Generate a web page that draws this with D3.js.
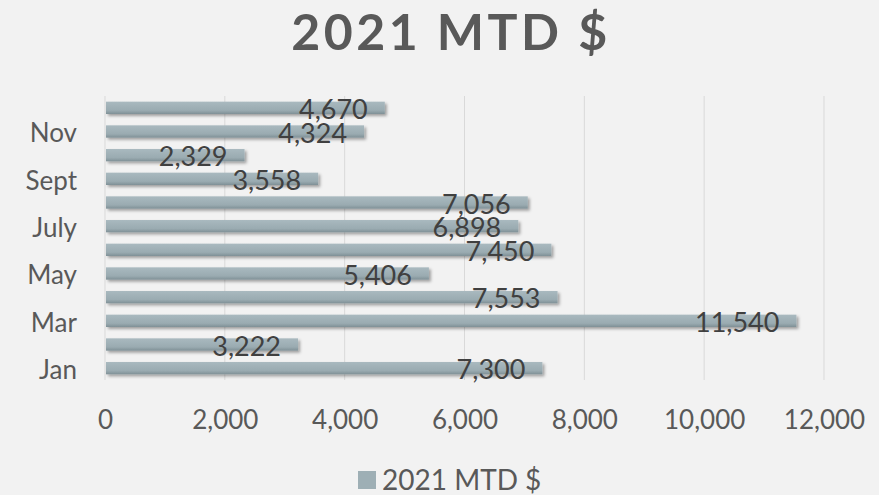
<!DOCTYPE html>
<html lang="en">
<head>
<meta charset="utf-8">
<title>2021 MTD $</title>
<script src="https://cdn.jsdelivr.net/npm/d3@7"></script>
<style>
  body { margin: 0; background: #f2f2f2; }
  svg text { font-family: 'Lato', 'Open Sans', sans-serif; }
</style>
</head>
<body>
<script>
// data
var months = ['Jan', 'Feb', 'Mar', 'Apr', 'May', 'June', 'July', 'Aug', 'Sept', 'Oct', 'Nov', 'Dec'];
var values = [7300, 3222, 11540, 7553, 5406, 7450, 6898, 7056, 3558, 2329, 4324, 4670];
var shownMonths = ['Jan', 'Mar', 'May', 'July', 'Sept', 'Nov'];
var xTicks = [0, 2000, 4000, 6000, 8000, 10000, 12000];
var seriesName = '2021 MTD $';

var w = 879, h = 495;
var plotLeft = 105, plotRight = 824, plotTop = 96, plotBottom = 380;

var fmt = d3.format(',');

var svg = d3.select('body').append('svg')
    .attr('width', w)
    .attr('height', h);

svg.append('rect').attr('width', w).attr('height', h).attr('fill', '#f2f2f2');

var defs = svg.append('defs');
var grad = defs.append('linearGradient')
    .attr('id', 'barGrad')
    .attr('x1', 0).attr('y1', 0).attr('x2', 0).attr('y2', 1);
grad.append('stop').attr('offset', '0%').attr('stop-color', '#a9b9bf');
grad.append('stop').attr('offset', '70%').attr('stop-color', '#9aabb1');
grad.append('stop').attr('offset', '100%').attr('stop-color', '#7f9096');

var shadow = defs.append('filter').attr('id', 'shadow')
    .attr('x', '-5%').attr('y', '-50%').attr('width', '115%').attr('height', '220%');
shadow.append('feDropShadow')
    .attr('dx', 2).attr('dy', 2).attr('stdDeviation', 1.5)
    .attr('flood-color', '#000').attr('flood-opacity', 0.35);

var xScale = d3.scaleLinear().domain([0, 12000]).range([plotLeft, plotRight]);
var yScale = d3.scaleBand().domain(months).range([plotBottom, plotTop]).paddingInner(0.48).paddingOuter(0.24);

// gridlines
svg.append('g')
    .selectAll('line')
    .data(xTicks)
    .enter()
    .append('line')
    .attr('x1', function(d) { return xScale(d); })
    .attr('x2', function(d) { return xScale(d); })
    .attr('y1', plotTop)
    .attr('y2', plotBottom)
    .attr('stroke', '#d9d9d9')
    .attr('stroke-width', 1);

// bars
svg.append('g')
    .selectAll('rect')
    .data(values)
    .enter()
    .append('rect')
    .attr('x', xScale(0) + 1)
    .attr('y', function(d, i) { return yScale(months[i]); })
    .attr('width', function(d) { return xScale(d) - xScale(0) - 1; })
    .attr('height', yScale.bandwidth())
    .attr('fill', 'url(#barGrad)')
    .attr('filter', 'url(#shadow)');

// data labels
svg.append('g')
    .selectAll('text')
    .data(values)
    .enter()
    .append('text')
    .text(function(d) { return fmt(d); })
    .attr('x', function(d) { return xScale(d) - 17; })
    .attr('y', function(d, i) { return yScale(months[i]) + yScale.bandwidth() / 2 + 11; })
    .attr('text-anchor', 'end')
    .attr('font-size', '27px')
    .attr('fill', '#404040');

// category axis
var yAxis = d3.axisLeft(yScale).tickValues(shownMonths).tickSize(0).tickPadding(0);
var gy = svg.append('g')
    .attr('transform', 'translate(' + (plotLeft - 28) + ',0)')
    .call(yAxis);
gy.select('.domain').remove();
gy.selectAll('text')
    .attr('font-size', '26px')
    .attr('font-family', 'Lato, sans-serif')
    .attr('fill', '#595959')
    .attr('dy', '0.42em');

// value axis
var xAxis = d3.axisBottom(xScale).tickValues(xTicks).tickFormat(fmt).tickSize(0).tickPadding(0);
var gx = svg.append('g')
    .attr('transform', 'translate(0,' + 429 + ')')
    .call(xAxis);
gx.select('.domain').remove();
gx.selectAll('text')
    .attr('font-size', '26px')
    .attr('font-family', 'Lato, sans-serif')
    .attr('fill', '#595959')
    .attr('dy', 0);

// title
svg.append('text')
    .text(seriesName)
    .attr('x', 451)
    .attr('y', 50)
    .attr('text-anchor', 'middle')
    .attr('font-size', '50px')
    .attr('font-weight', 'bold')
    .attr('letter-spacing', '3.5px')
    .attr('fill', '#595959');

// legend
svg.append('rect')
    .attr('x', 358).attr('y', 471)
    .attr('width', 18).attr('height', 18)
    .attr('fill', '#9eafb5');
svg.append('text')
    .text(seriesName)
    .attr('x', 382)
    .attr('y', 490)
    .attr('font-size', '28px')
    .attr('fill', '#595959');
</script>
</body>
</html>
